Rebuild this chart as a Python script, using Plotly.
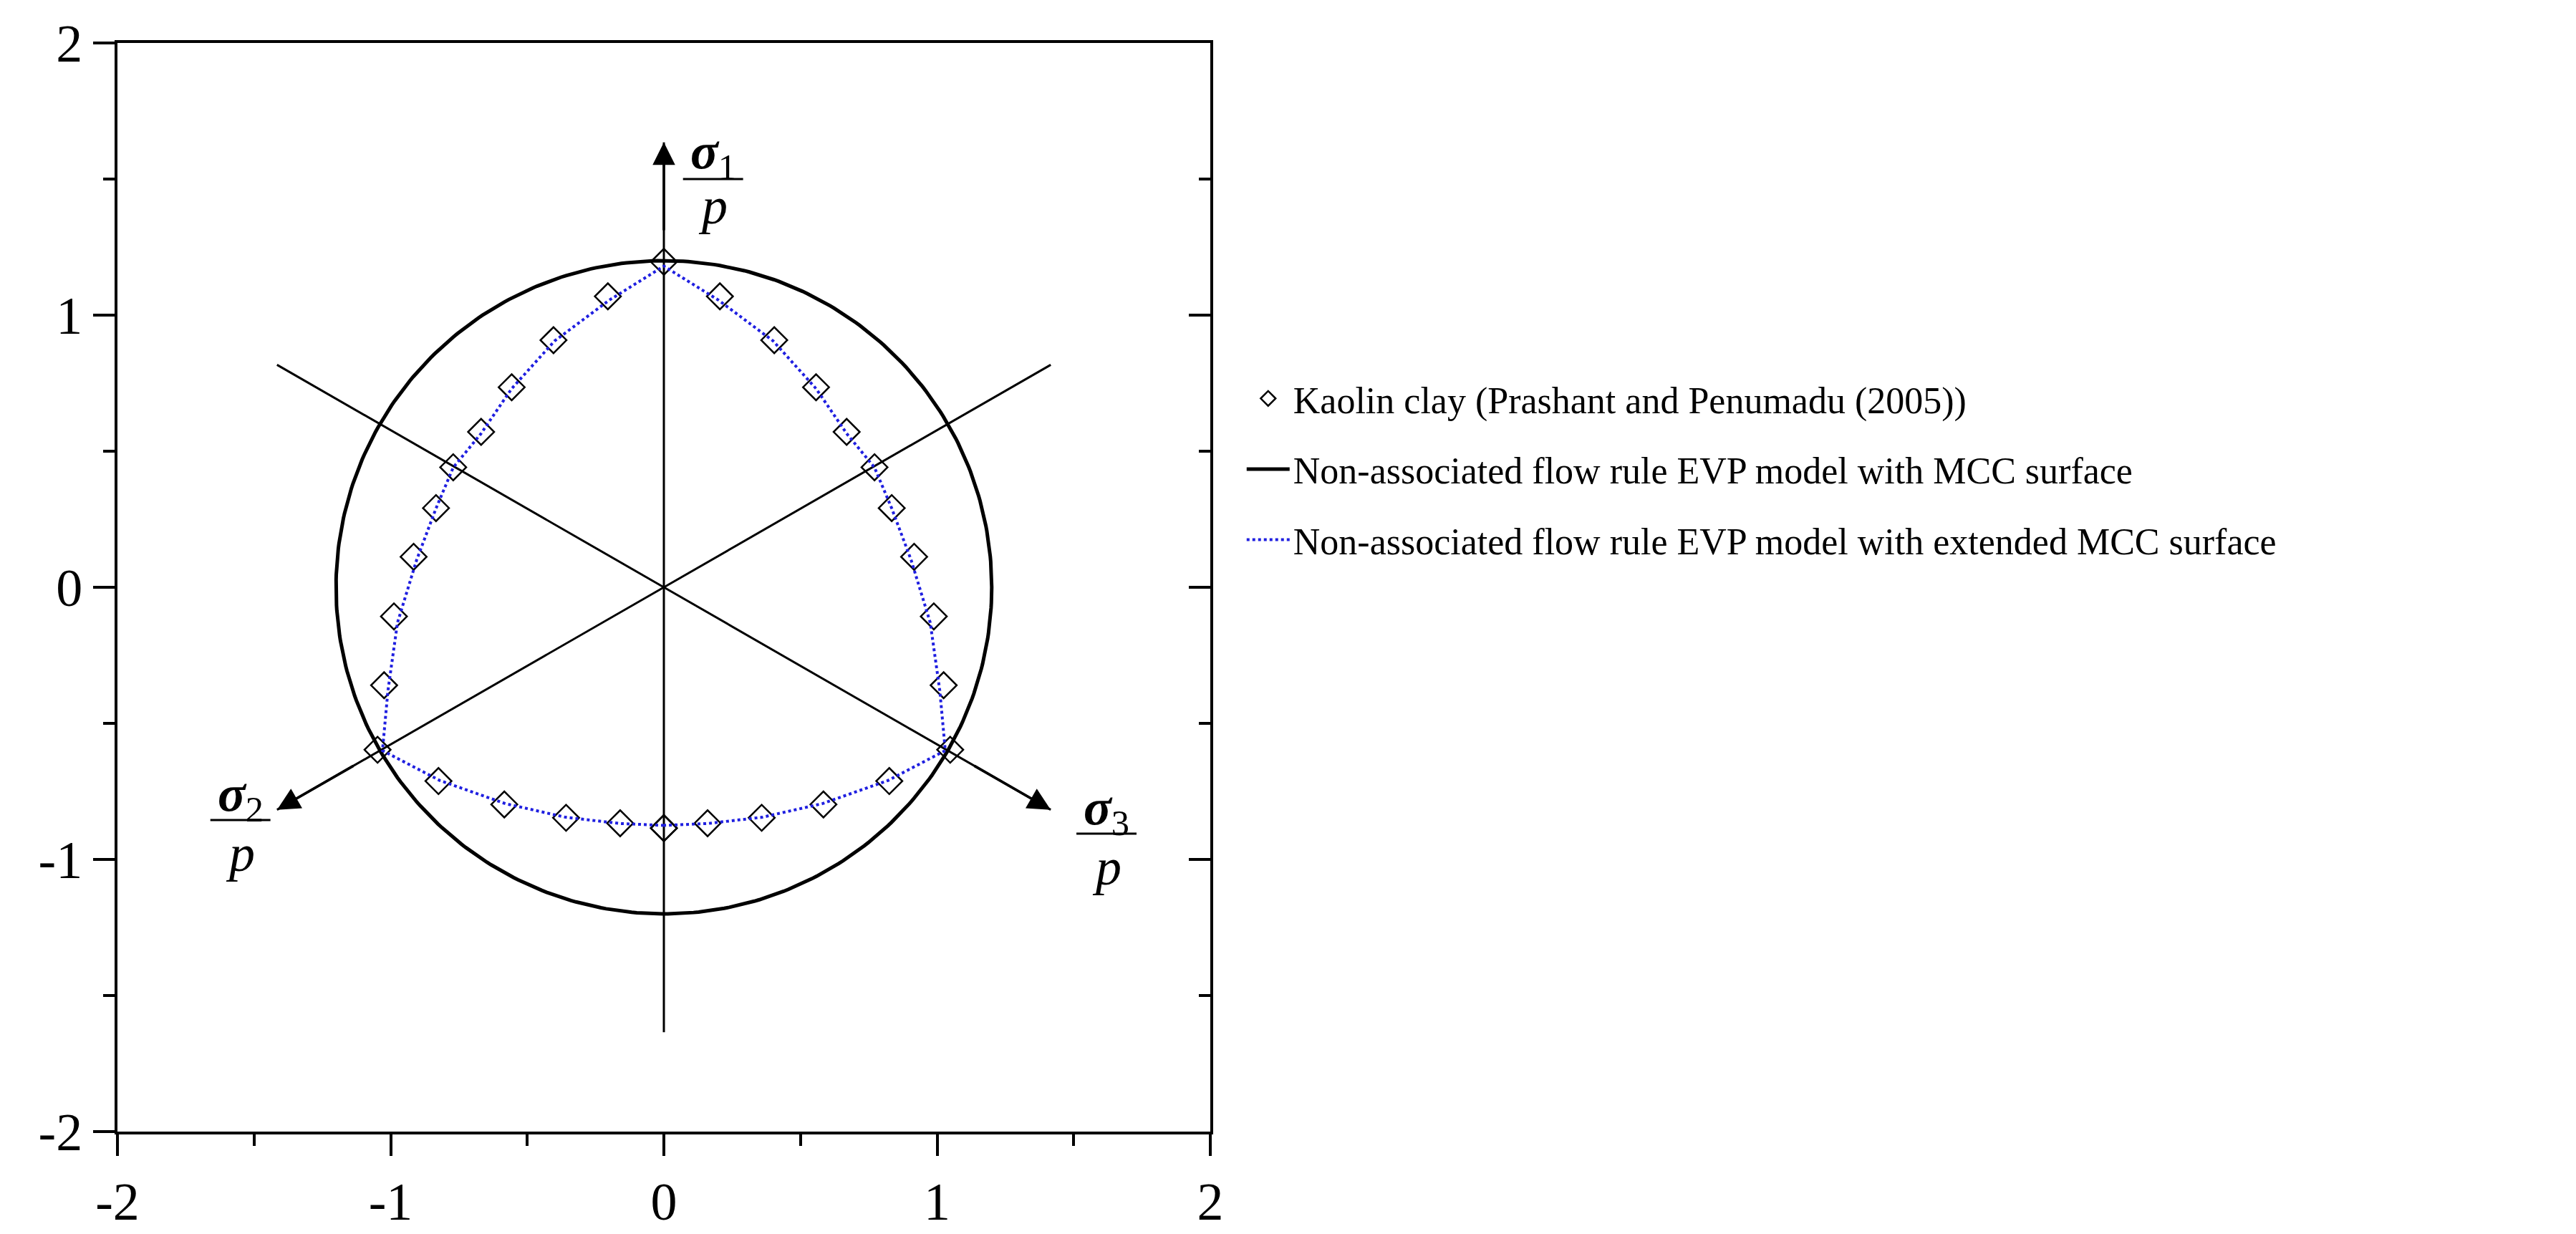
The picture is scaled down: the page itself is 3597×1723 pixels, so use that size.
import numpy as np
import plotly.graph_objects as go

# Kaolin clay data (right half incl. apex, mirrored for left half)
kx_right = [0.0, 0.205, 0.404, 0.557, 0.669, 0.771, 0.834, 0.916, 0.988, 1.024, 1.048, 0.825, 0.584, 0.358, 0.16, 0.0]
ky_right = [1.196, 1.069, 0.908, 0.735, 0.571, 0.441, 0.291, 0.112, -0.107, -0.36, -0.597, -0.712, -0.798, -0.847, -0.867, -0.885]
# extended MCC curve (vertices)
cx_right = [0.0, 0.2, 0.4, 0.557, 0.669, 0.771, 0.834, 0.905, 0.975, 1.01, 1.03, 0.82, 0.58, 0.36, 0.16, 0.0]
cy_right = [1.18, 1.055, 0.905, 0.73, 0.565, 0.44, 0.29, 0.1, -0.13, -0.38, -0.6, -0.71, -0.795, -0.845, -0.868, -0.875]
radius = 1.2
axis_len = 1.635
x_ticks = [-2, -1, 0, 1, 2]
y_ticks = [-2, -1, 0, 1, 2]

kx = [-v for v in kx_right[::-1]] + kx_right[1:]
ky = ky_right[::-1] + ky_right[1:]
cx = [-v for v in cx_right[::-1]] + cx_right[1:]
cy = cy_right[::-1] + cy_right[1:]

fig = go.Figure()
t = np.linspace(0, 2*np.pi, 400)
for ang in [90, 210, 330, 270, 150, 30]:
    a = np.radians(ang)
    fig.add_trace(go.Scatter(x=[0, axis_len*np.cos(a)], y=[0, axis_len*np.sin(a)], mode="lines",
                             line=dict(color="black", width=3), showlegend=False, hoverinfo="skip"))
for ang in [90, 210, 330]:
    a = np.radians(ang)
    fig.add_annotation(x=axis_len*np.cos(a), y=axis_len*np.sin(a), ax=0.8*axis_len*np.cos(a), ay=0.8*axis_len*np.sin(a),
                       xref="x", yref="y", axref="x", ayref="y", showarrow=True, arrowhead=2, arrowsize=1.8,
                       arrowwidth=3.5, arrowcolor="black", text="")

fig.add_trace(go.Scatter(x=kx, y=ky, mode="markers", name="Kaolin clay (Prashant and Penumadu (2005))",
                         legendgroup="a",
                         marker=dict(symbol="diamond-open", size=28, color="black", line=dict(width=2.5))))
fig.add_trace(go.Scatter(x=radius*np.cos(t), y=radius*np.sin(t), mode="lines", legendgroup="b",
                         name="Non-associated flow rule EVP model with MCC surface",
                         line=dict(color="black", width=5)))
fig.add_trace(go.Scatter(x=cx, y=cy, mode="lines", legendgroup="c",
                         name="Non-associated flow rule EVP model with extended MCC surface",
                         line=dict(color="#1f1fe0", width=4, dash="dot")))
fig.add_trace(go.Scatter(x=[None], y=[None], yaxis="y2", showlegend=False))

labels = [("1", 0.18, 1.59, 1.50, 1.40), ("2", -1.55, -0.77, -0.855, -0.98), ("3", 1.62, -0.82, -0.905, -1.03)]
for sub, x0, ys, yb, yp in labels:
    fig.add_annotation(x=x0, y=ys, text=f"<i><b>σ</b></i><sub>{sub}</sub>", showarrow=False,
                       font=dict(family="Liberation Serif", size=72, color="black"))
    fig.add_shape(type="line", x0=x0-0.11, x1=x0+0.11, y0=yb, y1=yb, line=dict(color="black", width=3))
    fig.add_annotation(x=x0, y=yp, text="<i>p</i>", showarrow=False,
                       font=dict(family="Liberation Serif", size=72, color="black"))

axcommon = dict(range=[-2, 2], showgrid=False, zeroline=False, showline=True, linecolor="black", linewidth=4,
                ticks="outside", ticklen=30, tickwidth=3.5, tickcolor="black",
                tickfont=dict(family="Liberation Serif", size=74, color="black"),
                minor=dict(dtick=0.5, ticks="outside", ticklen=16, tickwidth=3.5, tickcolor="black"))
fig.update_layout(
    width=3597, height=1723, plot_bgcolor="white", paper_bgcolor="white",
    margin=dict(l=156, r=1915, t=42, b=117),
    xaxis=dict(**axcommon, tickvals=x_ticks, ticktext=[str(v) for v in x_ticks], mirror=True),
    yaxis=dict(**axcommon, tickvals=y_ticks, ticktext=[str(v) for v in y_ticks]),
    yaxis2=dict(range=[-2, 2], overlaying="y", side="right", showgrid=False, zeroline=False, showline=True,
                linecolor="black", linewidth=4, ticks="inside", ticklen=30, tickwidth=3.5, tickcolor="black",
                tickvals=y_ticks, showticklabels=False,
                minor=dict(dtick=0.5, ticks="inside", ticklen=16, tickwidth=3.5, tickcolor="black")),
    legend=dict(x=1.03, y=0.7, xanchor="left", yanchor="top", bgcolor="rgba(0,0,0,0)",
                traceorder="grouped", tracegroupgap=28,
                font=dict(family="Liberation Serif", size=52, color="black"), itemwidth=60),
)
fig.write_html("out.html")
